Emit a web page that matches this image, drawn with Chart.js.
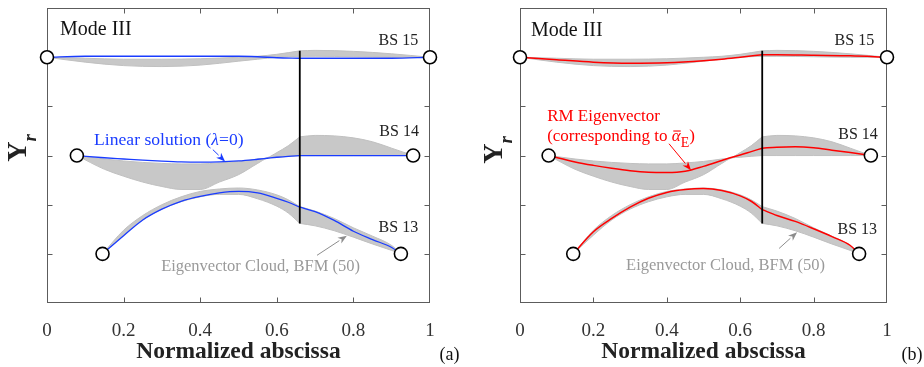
<!DOCTYPE html>
<html><head><meta charset="utf-8">
<script src="https://cdn.jsdelivr.net/npm/chart.js@4.4.1/dist/chart.umd.min.js"></script>
<style>
html,body{margin:0;padding:0;background:#fff;}
#wrap{position:relative;width:924px;height:367px;overflow:hidden;background:#fff;}
canvas{position:absolute;top:0;}
</style></head><body>
<div id="wrap"><canvas id="ca" width="462" height="367" style="left:0"></canvas><canvas id="cb" width="462" height="367" style="left:462px"></canvas></div>
<script>
// ---------- data ----------
const xTicks = [0, 0.2, 0.4, 0.6, 0.8, 1];
const yTicks = [1, 2, 3, 4, 5];

// end supports (open circles)
const supportX = [0, 1, 0.078, 0.956, 0.145, 0.924];
const supportY = [5, 5, 3, 3, 1, 1];

// discontinuity (vertical black line)
const jumpX = [0.66, 0.66];
const jumpY = [5.13, 1.62];
const jumpAt = 0.66;

// BS 15
const x15 = [0, 0.1, 0.2, 0.3, 0.4, 0.5, 0.55, 0.6, 0.66, 0.7, 0.8, 0.9, 1.0];
const linear15 = [5.0, 5.02, 5.02, 5.02, 5.02, 5.02, 5.01, 4.99, 4.98, 4.98, 4.98, 4.98, 5.0];
const rm15 = [5.0, 4.95, 4.90, 4.88, 4.89, 4.93, 4.96, 5.0, 5.05, 5.05, 5.04, 5.03, 5.0];
const cloud15Hi = [5.0, 4.98, 4.96, 4.96, 4.97, 5.0, 5.02, 5.06, 5.13, 5.14, 5.12, 5.07, 5.0];
const cloud15Lo = [5.0, 4.90, 4.83, 4.81, 4.84, 4.92, 4.96, 5.0, 5.02, 5.02, 5.01, 5.0, 5.0];

// BS 14
const x14 = [0.078, 0.15, 0.2, 0.25, 0.3, 0.35, 0.4, 0.45, 0.5, 0.55, 0.575, 0.6, 0.63, 0.66, 0.7, 0.75, 0.8, 0.85, 0.9, 0.956];
const linear14 = [3.0, 2.955, 2.93, 2.905, 2.885, 2.87, 2.865, 2.87, 2.89, 2.925, 2.945, 2.965, 2.985, 3.0, 3.0, 3.0, 3.0, 3.0, 3.0, 3.0];
const rm14 = [3.0, 2.87, 2.80, 2.74, 2.69, 2.66, 2.655, 2.68, 2.78, 2.90, 2.96, 3.01, 3.08, 3.15, 3.17, 3.18, 3.16, 3.11, 3.06, 3.0];
const cloud14Hi = [3.0, 2.93, 2.89, 2.86, 2.84, 2.83, 2.83, 2.85, 2.88, 2.93, 2.955, 3.06, 3.20, 3.38, 3.41, 3.40, 3.36, 3.28, 3.15, 3.0];
const cloud14Lo = [3.0, 2.72, 2.58, 2.46, 2.37, 2.31, 2.31, 2.46, 2.61, 2.84, 2.945, 2.965, 2.985, 3.0, 3.0, 3.0, 3.0, 3.0, 3.0, 3.0];

// BS 13
const x13 = [0.145, 0.2, 0.25, 0.3, 0.35, 0.4, 0.45, 0.5, 0.55, 0.6, 0.63, 0.66, 0.7, 0.75, 0.8, 0.85, 0.9, 0.924];
const linear13 = [1.0, 1.37, 1.69, 1.91, 2.07, 2.17, 2.24, 2.27, 2.24, 2.13, 2.05, 1.95, 1.86, 1.68, 1.46, 1.29, 1.13, 1.0];
const rm13 = [1.0, 1.45, 1.72, 1.95, 2.13, 2.25, 2.31, 2.33, 2.29, 2.18, 2.07, 1.90, 1.78, 1.66, 1.51, 1.35, 1.17, 1.0];
const cloud13Hi = [1.0, 1.48, 1.78, 2.00, 2.16, 2.27, 2.32, 2.34, 2.30, 2.20, 2.10, 1.96, 1.87, 1.72, 1.53, 1.36, 1.17, 1.0];
const cloud13Lo = [1.0, 1.38, 1.69, 1.91, 2.06, 2.16, 2.21, 2.21, 2.12, 1.97, 1.83, 1.62, 1.57, 1.47, 1.34, 1.20, 1.07, 1.0];

// ---------- styling / drawing ----------
const FAM = 'Liberation Serif';
const BLUE = '#1a3cff', RED = '#ff0000', CLOUD = '#c8c8c8', CLOUDLINE = '#c0c0c0';
Chart.defaults.font.family = FAM;

function pts(xs, ys){ return xs.map((x,i)=>({x:x, y:ys[i]})); }
// split a curve into the part left and right of the discontinuity
function halves(xs, ys){
  const k = xs.indexOf(jumpAt);
  return [[xs.slice(0,k+1), ys.slice(0,k+1)], [xs.slice(k), ys.slice(k)]];
}
function lineDs(xs, ys, color, w, order, extra){
  return Object.assign({data: pts(xs, ys), borderColor: color, backgroundColor: color, borderWidth: w,
    pointRadius: 0, fill: false, cubicInterpolationMode: 'monotone', order: order}, extra||{});
}
function mainDs(xs, ys, color, w){
  return halves(xs, ys).map(h=>lineDs(h[0], h[1], color, w, 2));
}
function cloudDs(xs, hi, lo){
  const H = halves(xs, hi), Lo = halves(xs, lo), out = [];
  for (let i=0;i<2;i++){
    out.push(lineDs(H[i][0], H[i][1], CLOUDLINE, 1, 3));
    out.push(lineDs(Lo[i][0], Lo[i][1], CLOUDLINE, 1, 3, {fill: '-1', backgroundColor: CLOUD}));
  }
  return out;
}

function fontOf(p, size){ return (p.italic?'italic ':'')+(p.bold?'bold ':'')+(p.size||size)+'px "'+FAM+'"'; }
function drawRich(ctx, parts, px, py, size, color, align){
  const base = py + 0.33*size;
  const w = parts.map(p=>{ctx.font=fontOf(p,size);return ctx.measureText(p.s).width;});
  const tot = w.reduce((a,b)=>a+b,0);
  let x = align==='right'?px-tot:(align==='center'?px-tot/2:px);
  ctx.fillStyle=color; ctx.textBaseline='alphabetic'; ctx.textAlign='left';
  parts.forEach((p,i)=>{
    ctx.font=fontOf(p,size);
    ctx.fillText(p.s,x,base+(p.dy||0));
    if(p.bar){ctx.fillRect(x+1.5, base-(p.size||size)*0.62, w[i]-1.5, 1.1);}
    x+=w[i];
  });
}
function drawArrow(ctx,x1,y1,x2,y2,color,lw){
  ctx.strokeStyle=color; ctx.fillStyle=color; ctx.lineWidth=lw;
  const ang=Math.atan2(y2-y1,x2-x1), L=9, W=3.5;
  const bx=x2-L*Math.cos(ang), by=y2-L*Math.sin(ang);
  ctx.beginPath(); ctx.moveTo(x1,y1); ctx.lineTo(bx,by); ctx.stroke();
  ctx.beginPath(); ctx.moveTo(x2,y2);
  ctx.lineTo(bx - W*Math.sin(ang), by + W*Math.cos(ang));
  ctx.lineTo(x2-0.7*L*Math.cos(ang), y2-0.7*L*Math.sin(ang));
  ctx.lineTo(bx + W*Math.sin(ang), by - W*Math.cos(ang));
  ctx.closePath(); ctx.fill();
}

const ANN = {};
ANN.ca = {
  inPlot: [
    {k:'text', parts:[{s:'Mode III'}], x:0.034, y:5.58, size:20, color:'#111'},
    {k:'text', parts:[{s:'BS 15'}], x:0.969, y:5.36, size:16, color:'#222', align:'right'},
    {k:'text', parts:[{s:'BS 14'}], x:0.971, y:3.50, size:16, color:'#222', align:'right'},
    {k:'text', parts:[{s:'BS 13'}], x:0.969, y:1.55, size:16, color:'#222', align:'right'},
    {k:'text', parts:[{s:'Linear solution ('},{s:'\u03bb',italic:true},{s:'=0)'}], x:0.123, y:3.34, size:17.6, color:BLUE},
    {k:'arrow', x1:0.433, y1:3.12, x2:0.465, y2:2.88, color:BLUE},
    {k:'text', parts:[{s:'Eigenvector Cloud, BFM (50)'}], x:0.298, y:0.765, size:16.5, color:'#9a9a9a'},
    {k:'arrow', x1:0.705, y1:0.97, x2:0.783, y2:1.37, color:'#8c8c8c'}
  ],
  xTitle:{px:238.5, py:350}, panel:{s:'(a)', px:449.5, py:354}, yTitle:{px:17, py:148}
};
ANN.cb = {
  inPlot: [
    {k:'text', parts:[{s:'Mode III'}], x:0.030, y:5.56, size:20, color:'#111'},
    {k:'text', parts:[{s:'BS 15'}], x:0.965, y:5.35, size:16, color:'#222', align:'right'},
    {k:'text', parts:[{s:'BS 14'}], x:0.975, y:3.45, size:16, color:'#222', align:'right'},
    {k:'text', parts:[{s:'BS 13'}], x:0.973, y:1.52, size:16, color:'#222', align:'right'},
    {k:'text', parts:[{s:'RM Eigenvector'}], x:0.074, y:3.81, size:17, color:RED},
    {k:'text', parts:[{s:'(corresponding to '},{s:'\u03b1',italic:true,bar:true},{s:'E',size:14,dy:6},{s:')'}], x:0.074, y:3.41, size:17, color:RED},
    {k:'arrow', x1:0.406, y1:3.24, x2:0.466, y2:2.70, color:RED},
    {k:'text', parts:[{s:'Eigenvector Cloud, BFM (50)'}], x:0.289, y:0.79, size:16.5, color:'#9a9a9a'},
    {k:'arrow', x1:0.706, y1:1.11, x2:0.755, y2:1.44, color:'#8c8c8c'}
  ],
  xTitle:{px:241.5, py:350}, panel:{s:'(b)', px:450, py:354}, yTitle:{px:30.5, py:150}
};

const deco = {
  id:'deco',
  beforeDatasetsDraw(chart){
    const c=chart.ctx,a=chart.chartArea,xs=chart.scales.x,ys=chart.scales.y;
    c.save(); c.strokeStyle='#5c5c5c'; c.lineWidth=1;
    const L=Math.round(a.left)+0.5, R=Math.round(a.right)-0.5, T=Math.round(a.top)+0.5, B=Math.round(a.bottom)-0.5;
    c.strokeRect(L,T,R-L,B-T);
    c.beginPath();
    yTicks.forEach(v=>{const y=Math.round(ys.getPixelForValue(v))+0.5; c.moveTo(L,y);c.lineTo(L+5,y);c.moveTo(R,y);c.lineTo(R-5,y);});
    xTicks.forEach(v=>{ if(v<=0||v>=1) return; const x=Math.round(xs.getPixelForValue(v))+0.5; c.moveTo(x,B);c.lineTo(x,B-5);c.moveTo(x,T);c.lineTo(x,T+5);});
    c.stroke(); c.restore();
  },
  afterDatasetsDraw(chart){
    const c=chart.ctx,xs=chart.scales.x,ys=chart.scales.y, A=ANN[chart.canvas.id];
    c.save();
    A.inPlot.forEach(o=>{
      if(o.k==='text') drawRich(c,o.parts,xs.getPixelForValue(o.x),ys.getPixelForValue(o.y),o.size,o.color,o.align||'left');
      else drawArrow(c,xs.getPixelForValue(o.x1),ys.getPixelForValue(o.y1),xs.getPixelForValue(o.x2),ys.getPixelForValue(o.y2),o.color,1);
    });
    drawRich(c,[{s:'Normalized abscissa',bold:true}],A.xTitle.px,A.xTitle.py,23.5,'#222','center');
    drawRich(c,[{s:A.panel.s}],A.panel.px,A.panel.py,18,'#111','center');
    c.translate(A.yTitle.px,A.yTitle.py); c.rotate(-Math.PI/2);
    drawRich(c,[{s:'Y',bold:true},{s:'r',bold:true,italic:true,size:19,dy:10}],0,0,28,'#222','center');
    c.restore();
  }
};

function makeChart(id, main, mainColor, mainWidth, pad){
  let ds = [];
  ds.push({data: pts(supportX, supportY), showLine:false, pointRadius:6.5, pointHoverRadius:6.5,
           pointBackgroundColor:'#fff', pointBorderColor:'#000', pointBorderWidth:1.6, clip:false, order:0});
  ds.push(lineDs(jumpX, jumpY, '#000', 1.8, 1, {cubicInterpolationMode:'default', tension:0}));
  ds = ds.concat(mainDs(x15, main[0], mainColor, mainWidth));
  ds = ds.concat(mainDs(x14, main[1], mainColor, mainWidth));
  ds = ds.concat(mainDs(x13, main[2], mainColor, mainWidth));
  ds = ds.concat(cloudDs(x15, cloud15Hi, cloud15Lo));
  ds = ds.concat(cloudDs(x14, cloud14Hi, cloud14Lo));
  ds = ds.concat(cloudDs(x13, cloud13Hi, cloud13Lo));
  return new Chart(document.getElementById(id), {
    type:'line',
    data:{datasets: ds},
    options:{
      responsive:false, animation:false, events:[],
      layout:{padding:{left:pad.left, right:pad.right, top:pad.top, bottom:0}},
      plugins:{legend:{display:false}, tooltip:{enabled:false}},
      scales:{
        x:{type:'linear', min:0, max:1, grid:{display:false}, border:{display:false},
           afterFit:s=>{s.height=64;},
           afterBuildTicks:s=>{s.ticks = xTicks.map(v=>({value:v}));},
           ticks:{padding:9, color:'#333', font:{size:19, family:FAM},
                  callback:v=>String(Math.round(v*10)/10), autoSkip:false, maxRotation:0}},
        y:{type:'linear', min:0, max:6, grid:{display:false}, border:{display:false},
           afterFit:s=>{s.width=0;}, ticks:{display:false}}
      }
    },
    plugins:[deco]
  });
}

makeChart('ca', [linear15, linear14, linear13], BLUE, 1.3, {left:47, right:32, top:5});
makeChart('cb', [rm15, rm14, rm13], RED, 1.5, {left:58, right:37, top:7});
</script></body></html>
